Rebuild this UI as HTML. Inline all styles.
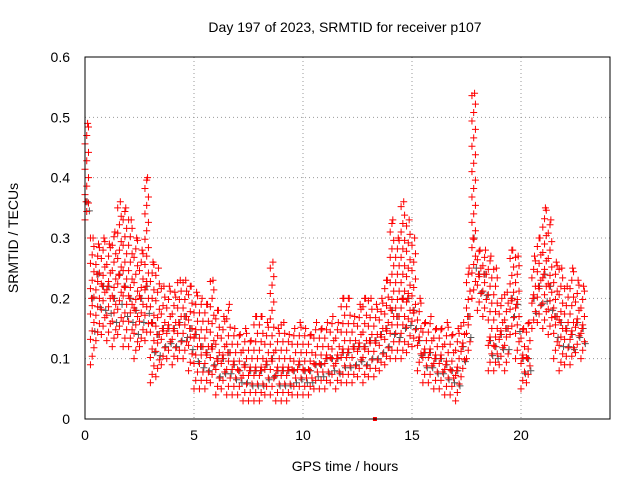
<!DOCTYPE html>
<html><head><meta charset="utf-8"><style>
body{margin:0;background:#fff;}
svg text{font-family:"Liberation Sans",sans-serif;fill:#000;}
</style></head><body>
<svg id="chart" width="640" height="480" xmlns="http://www.w3.org/2000/svg">
<rect width="640" height="480" fill="#fff"/>
<text x="345" y="32" font-size="14" text-anchor="middle">Day 197 of 2023, SRMTID for receiver p107</text>
<text x="345" y="471" font-size="14" text-anchor="middle">GPS time / hours</text>
<text transform="translate(18,238) rotate(-90)" font-size="14" text-anchor="middle">SRMTID / TECUs</text>
<g id="grid"></g><g id="ticks"></g><g id="gray"></g><g id="red"></g>
<rect x="85" y="57" width="525" height="362" fill="none" stroke="#000" stroke-width="1"/>
</svg>
<script>
const xTicks=[0,5,10,15,20];
const yTicks=[0,0.1,0.2,0.3,0.4,0.5,0.6];
const yLabels=["0","0.1","0.2","0.3","0.4","0.5","0.6"];
const step=0.25;
const hiVals=[0.49,0.3,0.29,0.3,0.29,0.31,0.36,0.35,0.33,0.3,0.28,0.4,0.26,0.25,0.22,0.22,0.21,0.23,0.23,0.22,
0.21,0.2,0.19,0.23,0.18,0.17,0.19,0.15,0.14,0.15,0.13,0.17,0.17,0.16,0.26,0.15,0.16,0.14,0.15,0.16,
0.15,0.14,0.16,0.15,0.16,0.17,0.16,0.2,0.2,0.17,0.19,0.2,0.2,0.19,0.2,0.23,0.33,0.3,0.36,0.33,
0.3,0.2,0.16,0.17,0.15,0.15,0.16,0.14,0.15,0.16,0.25,0.54,0.28,0.28,0.27,0.25,0.2,0.21,0.28,0.27,
0.15,0.16,0.27,0.3,0.35,0.33,0.26,0.25,0.22,0.25,0.23,0.22];
const midVals=[0.36,0.2,0.24,0.22,0.22,0.2,0.24,0.22,0.2,0.18,0.2,0.22,0.16,0.14,0.15,0.15,0.15,0.16,0.17,0.15,
0.14,0.12,0.11,0.12,0.1,0.1,0.11,0.09,0.08,0.09,0.08,0.08,0.08,0.09,0.1,0.08,0.08,0.08,0.08,0.09,
0.08,0.08,0.09,0.09,0.1,0.1,0.1,0.11,0.11,0.12,0.12,0.12,0.13,0.13,0.14,0.15,0.18,0.17,0.2,0.2,
0.18,0.13,0.11,0.11,0.1,0.1,0.09,0.08,0.08,0.12,0.17,0.3,0.24,0.24,0.13,0.12,0.14,0.15,0.2,0.19,
0.1,0.1,0.2,0.22,0.24,0.22,0.17,0.16,0.15,0.14,0.16,0.15];
const loVals=[0.33,0.09,0.13,0.14,0.13,0.12,0.14,0.12,0.12,0.1,0.12,0.13,0.06,0.07,0.09,0.1,0.09,0.1,0.1,0.08,
0.05,0.05,0.05,0.06,0.04,0.05,0.04,0.04,0.04,0.03,0.03,0.03,0.03,0.04,0.04,0.03,0.03,0.03,0.04,0.04,
0.04,0.04,0.05,0.05,0.05,0.06,0.05,0.06,0.06,0.06,0.07,0.06,0.07,0.07,0.08,0.09,0.1,0.1,0.1,0.11,
0.12,0.08,0.06,0.06,0.05,0.05,0.04,0.04,0.03,0.07,0.1,0.2,0.18,0.17,0.08,0.08,0.09,0.08,0.14,0.1,
0.05,0.06,0.15,0.16,0.15,0.14,0.1,0.08,0.09,0.09,0.11,0.1];
const NS="http://www.w3.org/2000/svg";
function X(h){return 85+h*21.8;}
function Y(v){return 419-v*603.3;}
const svg=document.getElementById('chart');
const grid=document.getElementById('grid'),ticks=document.getElementById('ticks');
function mk(tag,attrs,parent){const e=document.createElementNS(NS,tag);for(const k in attrs)e.setAttribute(k,attrs[k]);parent.appendChild(e);return e;}
xTicks.forEach(t=>{
  const g=mk('line',{x1:X(t),x2:X(t),y1:57,y2:419,stroke:'#999','stroke-dasharray':'1,3'},grid);
  
  
  const l=mk('text',{x:X(t),y:440,'font-size':'14','text-anchor':'middle'},ticks);
  l.textContent=t;
  
  
});
yTicks.forEach((t,i)=>{
  const g=mk('line',{x1:85,x2:610,y1:Y(t),y2:Y(t),stroke:'#999','stroke-dasharray':'1,3'},grid);
  
  
  const l=mk('text',{x:70,y:Y(t)+5,'font-size':'14','text-anchor':'end'},ticks);
  l.textContent=yLabels[i];
  
  
});
function plus(x,y,color,parent){
  const p=mk('path',{d:`M${x-3.5},${y}h7M${x},${y-3.5}v7`,stroke:color,'stroke-width':'1',fill:'none'},parent);
  
  
}
const gray=document.getElementById('gray'),red=document.getElementById('red');
for(let i=0;i<midVals.length;i++){
  const t=i*step;
  plus(X(t+0.1),Y(midVals[i]),'#555',gray);
  plus(X(t+0.2),Y((midVals[i]+loVals[i])/2),'#555',gray);
  const lo=loVals[i],hi=hiVals[i];
  let k=0;
  for(let v=lo;v<=hi+1e-9;v+=0.014){
    plus(X(t+(k%3)*0.08),Y(v),'#f00',red);k++;
  }
  plus(X(t+0.12),Y(hi),'#f00',red);
  plus(X(t+0.05),Y(midVals[i]),'#f00',red);
}
const sq=mk('rect',{x:X(13.3)-2,y:Y(0)-2,width:4,height:4,fill:'#f00'},red);


</script>
</body></html>
